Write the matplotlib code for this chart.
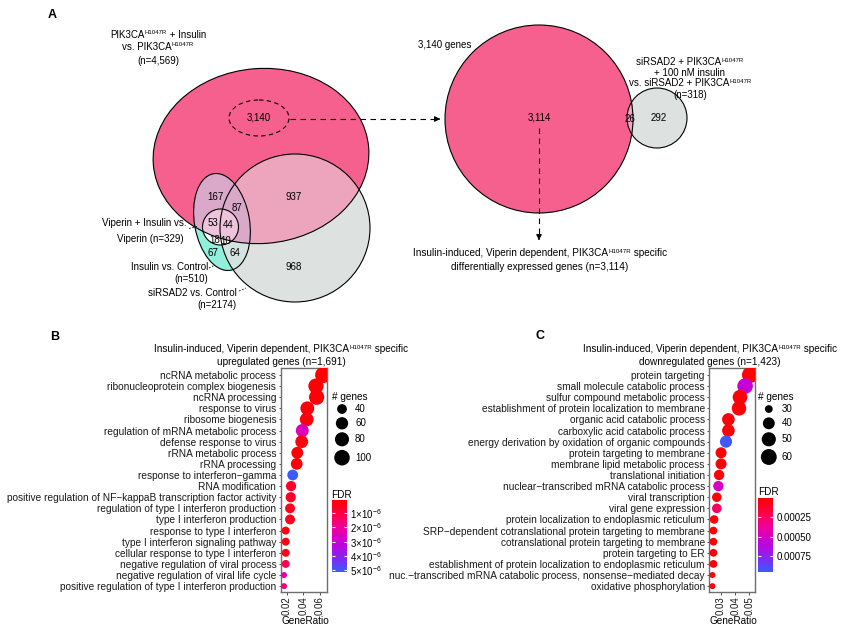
import re
import numpy as np
import matplotlib
matplotlib.use("Agg")
import matplotlib.pyplot as plt
from matplotlib.patches import Ellipse
from matplotlib.colors import LinearSegmentedColormap, Normalize
from matplotlib.cm import ScalarMappable

plt.rcParams['font.family'] = ['Liberation Sans', 'DejaVu Sans']
plt.rcParams['mathtext.fontset'] = 'custom'
plt.rcParams['mathtext.rm'] = 'Liberation Sans'
plt.rcParams['mathtext.it'] = 'Liberation Sans:italic'
plt.rcParams['mathtext.bf'] = 'Liberation Sans:bold'

W, H, DPI = 851, 630, 100
M = '\u2212'
PIK = 'PIK3CA^H1047R'   # "^H1047R" is drawn as a superscript

# ---- panel A data
venn_counts = ["3,140", "167", "87", "937", "53", "44", "18", "10", "67", "64", "968"]
venn_sets = [[PIK + " + Insulin", "vs. " + PIK, "(n=4,569)"],
             ["Viperin + Insulin vs.", "Viperin (n=329)"],
             ["Insulin vs. Control", "(n=510)"],
             ["siRSAD2 vs. Control", "(n=2174)"]]
venn2_counts = ["3,114", "26", "292"]
venn2_label = ["siRSAD2 + " + PIK, "+ 100 nM insulin", "vs. siRSAD2 + " + PIK, "(n=318)"]
venn2_title = "3,140 genes"
venn2_result = ["Insulin-induced, Viperin dependent, " + PIK + " specific",
                "differentially expressed genes (n=3,114)"]

# ---- panel B data (upregulated)
b_terms = ["ncRNA metabolic process", "ribonucleoprotein complex biogenesis",
           "ncRNA processing", "response to virus", "ribosome biogenesis",
           "regulation of mRNA metabolic process", "defense response to virus",
           "rRNA metabolic process", "rRNA processing",
           "response to interferon" + M + "gamma", "RNA modification",
           "positive regulation of NF" + M + "kappaB transcription factor activity",
           "regulation of type I interferon production", "type I interferon production",
           "response to type I interferon", "type I interferon signaling pathway",
           "cellular response to type I interferon", "negative regulation of viral process",
           "negative regulation of viral life cycle",
           "positive regulation of type I interferon production"]
b_ratio = [0.0638, 0.0551, 0.0559, 0.0447, 0.0440, 0.0387, 0.0380, 0.0327, 0.0320, 0.0272,
           0.0252, 0.0248, 0.0240, 0.0240, 0.0188, 0.0188, 0.0188, 0.0188, 0.0168, 0.0168]
b_count = [110, 95, 96, 77, 76, 67, 65, 56, 55, 47, 43, 43, 41, 41, 32, 32, 32, 32, 29, 29]
b_fdr = [1.0e-7, 1.5e-7, 1.5e-7, 2.0e-7, 2.5e-7, 2.5e-6, 3.0e-7, 2.0e-7, 2.0e-7, 5.1e-6,
         6.5e-7, 6.0e-7, 5.0e-7, 5.0e-7, 3.0e-7, 3.0e-7, 3.5e-7, 1.2e-6, 2.4e-6, 1.6e-6]
b_title = ["Insulin-induced, Viperin dependent, " + PIK + " specific",
           "upregulated genes (n=1,691)"]
b_size_leg = [40, 60, 80, 100]
b_fdr_ticks = [1e-6, 2e-6, 3e-6, 4e-6, 5e-6]
b_fdr_labels = [r"$%d{\times}10^{-6}$" % i for i in range(1, 6)]

# ---- panel C data (downregulated)
c_terms = ["protein targeting", "small molecule catabolic process",
           "sulfur compound metabolic process",
           "establishment of protein localization to membrane",
           "organic acid catabolic process", "carboxylic acid catabolic process",
           "energy derivation by oxidation of organic compounds",
           "protein targeting to membrane", "membrane lipid metabolic process",
           "translational initiation", "nuclear" + M + "transcribed mRNA catabolic process",
           "viral transcription", "viral gene expression",
           "protein localization to endoplasmic reticulum",
           "SRP" + M + "dependent cotranslational protein targeting to membrane",
           "cotranslational protein targeting to membrane", "protein targeting to ER",
           "establishment of protein localization to endoplasmic reticulum",
           "nuc." + M + "transcribed mRNA catabolic process, nonsense" + M + "mediated decay",
           "oxidative phosphorylation"]
c_ratio = [0.0505, 0.0470, 0.0434, 0.0427, 0.0352, 0.0352, 0.0335, 0.0300, 0.0300, 0.0286,
           0.0281, 0.0270, 0.0270, 0.0251, 0.0246, 0.0246, 0.0246, 0.0246, 0.0239, 0.0239]
c_count = [62, 58, 53, 52, 43, 43, 41, 37, 37, 35, 35, 33, 33, 31, 30, 30, 30, 30, 29, 29]
c_fdr = [2.0e-5, 5.6e-4, 3.0e-5, 3.0e-5, 3.5e-5, 3.5e-5, 9.4e-4, 3.0e-5, 3.0e-5, 4.0e-5,
         5.0e-4, 4.0e-5, 2.5e-4, 3.0e-5, 3.0e-5, 3.0e-5, 3.0e-5, 3.0e-5, 3.0e-5, 3.0e-5]
c_title = ["Insulin-induced, Viperin dependent, " + PIK + " specific",
           "downregulated genes (n=1,423)"]
c_size_leg = [30, 40, 50, 60]
c_fdr_ticks = [0.00025, 0.0005, 0.00075]
c_fdr_labels = ["0.00025", "0.00050", "0.00075"]

fdr_cmap = LinearSegmentedColormap.from_list(
    "fdr", ["#FF0000", "#FF0048", "#EC00A0", "#C400DA", "#8A22F2", "#3B5BFF"])


def px_rect(x0, y0, x1, y1):
    return [x0 / W, 1 - y1 / H, (x1 - x0) / W, (y1 - y0) / H]


def dot_s(c, cmin, cmax, rmin=3.0, rmax=8.1):
    r = rmin + np.sqrt((np.asarray(c, float) - cmin) / (cmax - cmin)) * (rmax - rmin)
    return (2 * r * 72 / DPI) ** 2


fig = plt.figure(figsize=(W / DPI, H / DPI), dpi=DPI)
ov = fig.add_axes([0, 0, 1, 1])
ov.set_xlim(0, W)
ov.set_ylim(H, 0)
ov.axis('off')
rend = fig.canvas.get_renderer()


def rich(x, y, s, fs=7, ha='center'):
    # text on baseline y, with "^H1047R" parts as small raised text
    parts = re.split(r'\^(H1047R)', s)
    objs = []
    for i, p in enumerate(parts):
        if not p:
            continue
        sup = i % 2 == 1
        t = ov.text(0, y - (3.2 if sup else 0), p, fontsize=fs * 0.62 if sup else fs,
                    ha='left', va='baseline', zorder=12)
        objs.append(t)
    widths = [t.get_window_extent(rend).width for t in objs]
    tot = sum(widths)
    x0 = {'center': x - tot / 2, 'right': x - tot, 'left': x}[ha]
    for t, w in zip(objs, widths):
        t.set_x(x0)
        x0 += w


def lines(x, ys, texts, ha='center', fs=7):
    for y, t in zip(ys, texts):
        rich(x, y, t, fs=fs, ha=ha)


# ---------------- panel A ----------------
pink, grey, cyan = '#F6608E', '#DDE2E1', '#90F0DC'


def ell(xy, w, h, ang=0, **kw):
    e = Ellipse(xy, w, h, angle=ang, **kw)
    e.set_transform(ov.transData)
    return e


big = dict(xy=(261, 156), w=216, h=175, ang=-4.5)
gry = dict(xy=(295, 228), w=150, h=148, ang=0)
tall = dict(xy=(222, 222), w=55, h=98, ang=-10)
small = dict(xy=(220.5, 227), w=36, h=36, ang=0)

ov.add_patch(ell(**gry, fc=grey, ec='none', zorder=1))
ov.add_patch(ell(**tall, fc=cyan, ec='none', zorder=2))
p = ov.add_patch(ell(**tall, fc='#D3E3DF', ec='none', zorder=3))
p.set_clip_path(ell(**gry))
ov.add_patch(ell(**big, fc=pink, ec='none', zorder=4))
p = ov.add_patch(ell(**gry, fc='#EDA5BE', ec='none', zorder=5))
p.set_clip_path(ell(**big))
p = ov.add_patch(ell(**tall, fc='#DAA9CA', ec='none', zorder=6))
p.set_clip_path(ell(**big))
ov.add_patch(ell(**small, fc='white', ec='none', zorder=7))
p = ov.add_patch(ell(**small, fc='#EEC4DC', ec='none', zorder=8))
p.set_clip_path(ell(**big))
for g in (big, gry, tall, small):
    ov.add_patch(ell(**g, fc='none', ec='black', lw=0.8, zorder=10))
ov.add_patch(ell((259, 118), 60, 36, fc='none', ec='black', lw=0.8, ls=(0, (4, 3)), zorder=10))

venn_pos = [(259, 118), (215, 197), (237, 208), (294, 197), (212.5, 223), (228.5, 225),
            (215, 240), (226, 241.5), (212.5, 253), (234.5, 253.5), (294, 267)]
for t, (x, y) in zip(venn_counts, venn_pos):
    ov.text(x, y, t, fontsize=7, ha='center', va='center', zorder=12)

lines(158, [37.5, 49.5, 63.5], venn_sets[0])
lines(186, [226], venn_sets[1][:1], ha='right')
lines(150, [241.5], venn_sets[1][1:])
lines(208, [270, 281.5], venn_sets[2], ha='right')
lines(237, [296.5, 307.5], venn_sets[3], ha='right')
for (x0, y0, x1, y1) in [(189, 228.5, 197, 226.5), (209, 268, 215, 265), (239, 291, 246, 288)]:
    ov.plot([x0, x1], [y0, y1], color='black', lw=0.6, ls=(0, (2, 2)), zorder=12)

# arrow to second venn
ov.plot([290, 436], [119, 119], color='black', lw=0.8, ls=(0, (5, 4)), zorder=12)
ov.annotate('', xy=(443, 119), xytext=(436, 119),
            arrowprops=dict(arrowstyle='-|>', color='black', lw=0.8, mutation_scale=8))

# second venn
c_big = dict(xy=(539, 119), w=188, h=188)
c_sm = dict(xy=(657, 118), w=60, h=60)
ov.add_patch(ell(**c_sm, fc=grey, ec='none', zorder=1))
ov.add_patch(ell(**c_big, fc=pink, ec='none', zorder=2))
p = ov.add_patch(ell(**c_sm, fc='#EFA4BF', ec='none', zorder=3))
p.set_clip_path(ell(**c_big))
for g in (c_big, c_sm):
    ov.add_patch(ell(**g, fc='none', ec='black', lw=0.8, zorder=10))
for t, (x, y) in zip(venn2_counts, [(539, 118), (630, 119), (659, 118)]):
    ov.text(x, y, t, fontsize=7, ha='center', va='center', zorder=12)
ov.text(418, 45, venn2_title, fontsize=7, ha='left', va='center')
lines(690, [65, 76, 86.5, 98.5], venn2_label)
ov.plot([539, 539], [128, 236], color='black', lw=0.8, ls=(0, (5, 4)), zorder=12)
ov.annotate('', xy=(539, 243), xytext=(539, 236),
            arrowprops=dict(arrowstyle='-|>', color='black', lw=0.8, mutation_scale=8))
lines(540, [256.5, 269.5], venn2_result, fs=7.2)

# ---------------- panels B and C ----------------


def dot_panel(rect, terms, ratio, count, fdr, xlim, xticks, norm):
    ax = fig.add_axes(px_rect(*rect))
    n = len(terms)
    y = np.arange(n)
    ax.scatter(ratio, y, s=dot_s(count, min(count), max(count)), c=fdr, cmap=fdr_cmap,
               norm=norm, edgecolors='none', zorder=3)
    ax.set_xlim(*xlim)
    ax.set_ylim(n - 1 + 0.5, -0.6)
    ax.set_yticks(y)
    ax.set_yticklabels(terms, fontsize=7.25, color='#1a1a1a')
    ax.set_xticks(xticks)
    ax.set_xticklabels(["%.2f" % v for v in xticks], rotation=90, fontsize=7, color='#1a1a1a')
    ax.tick_params(length=1.8, width=0.6, color='#333333', pad=1.4)
    for sp in ax.spines.values():
        sp.set_color('#6e6e6e')
        sp.set_linewidth(1.0)
    return ax


def legends(x0, count, leg_vals, leg_y, fdr_top, cbar, norm, ticks, labels):
    ov.text(x0, 397, "# genes", fontsize=7.2, ha='left', va='center')
    ov.scatter([x0 + 10.5] * len(leg_vals), leg_y, s=dot_s(leg_vals, min(count), max(count)),
               color='black', edgecolors='none')
    for v, yy in zip(leg_vals, leg_y):
        ov.text(x0 + 23.5, yy, str(v), fontsize=7, ha='left', va='center')
    ov.text(x0, fdr_top, "FDR", fontsize=7.2, ha='left', va='center')
    cax = fig.add_axes(px_rect(*cbar))
    cb = fig.colorbar(ScalarMappable(norm=norm, cmap=fdr_cmap), cax=cax)
    cb.outline.set_visible(False)
    cax.invert_yaxis()
    cax.minorticks_off()
    cb.set_ticks(ticks)
    cb.set_ticklabels(labels)
    cax.tick_params(direction='in', color='white', length=2.5, width=0.8, left=True, right=True,
                    labelsize=7, pad=2.5)


norm_b = Normalize(6e-8, 5.12e-6)
norm_c = Normalize(1e-5, 9.5e-4)

axb = dot_panel((280.7, 368.3, 327.3, 591.7), b_terms, b_ratio, b_count, b_fdr,
                (0.0128, 0.0687), [0.02, 0.04, 0.06], norm_b)
axc = dot_panel((709.3, 368.3, 755, 591.7), c_terms, c_ratio, c_count, c_fdr,
                (0.0217, 0.054), [0.03, 0.04, 0.05], norm_c)

legends(331.5, b_count, b_size_leg, [409, 423.3, 439.3, 457.7], 495,
        (331.7, 500, 346.7, 571.7), norm_b, b_fdr_ticks, b_fdr_labels)
legends(758.3, c_count, c_size_leg, [409, 423.3, 439.3, 457], 492.3,
        (758.3, 498.3, 773.3, 571.7), norm_c, c_fdr_ticks, c_fdr_labels)

lines(281, [352, 365], b_title, fs=7.2)
lines(710, [352, 365], c_title, fs=7.2)
ov.text(305, 621, "GeneRatio", fontsize=7.2, ha='center', va='center')
ov.text(733, 621.5, "GeneRatio", fontsize=7.2, ha='center', va='center')

for t, (x, y) in zip("ABC", [(52, 15), (55, 337), (540, 336)]):
    ov.text(x, y, t, fontsize=9, fontweight='bold', ha='center', va='center')

fig.savefig("out.png", dpi=DPI)
